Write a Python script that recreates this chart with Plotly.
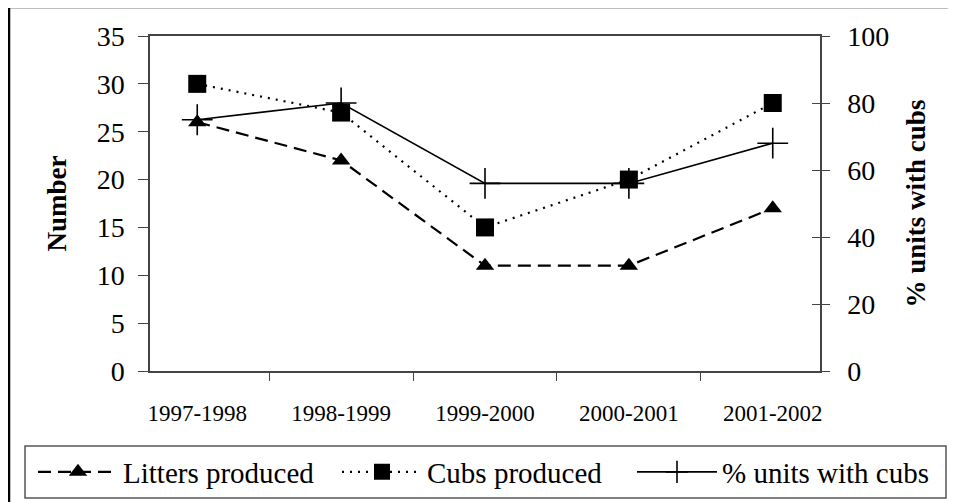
import plotly.graph_objects as go

seasons = ["1997-1998", "1998-1999", "1999-2000", "2000-2001", "2001-2002"]
litters = [26, 22, 11, 11, 17]
cubs = [30, 27, 15, 20, 28]
pct_units = [75, 80, 56, 56, 68]

FONT = "Liberation Serif"
axis_col = "#444444"

# page has an 8px body margin, so the figure is sized to fit the window
W, H = 948, 494
L, T = 142, 28
PW, PH = 670, 335


def px_x(page_x):
    return (page_x - 8 - L) / PW


def px_y(page_y):
    return (T + PH - (page_y - 8)) / PH


fig = go.Figure()

fig.add_trace(go.Scatter(
    x=seasons, y=litters, name="Litters produced", mode="lines+markers",
    legend="legend",
    line=dict(color="black", width=2.2, dash="13px,7px"),
    marker=dict(symbol="triangle-up", size=16, color="black")
))
fig.add_trace(go.Scatter(
    x=seasons, y=cubs, name="Cubs produced", mode="lines+markers",
    legend="legend2",
    line=dict(color="black", width=2.2, dash="2px,6px"),
    marker=dict(symbol="square", size=18, color="black")
))
fig.add_trace(go.Scatter(
    x=seasons, y=pct_units, name="% units with cubs", mode="lines+markers",
    yaxis="y2", legend="legend3",
    line=dict(color="black", width=1.6),
    marker=dict(symbol="cross-thin", size=22, color="black",
                line=dict(color="black", width=1.6))
))
# invisible trace so the inner tick marks of the right axis are drawn
fig.add_trace(go.Scatter(x=seasons, y=pct_units, yaxis="y3", mode="none",
                         showlegend=False, hoverinfo="skip"))

legend_style = dict(
    orientation="h", xanchor="left", yanchor="middle", y=px_y(472),
    borderwidth=0, bgcolor="rgba(0,0,0,0)", itemwidth=80,
    font=dict(family=FONT, size=29, color="black"),
)

fig.update_layout(
    width=W, height=H,
    margin=dict(l=L, r=W - L - PW, t=T, b=H - T - PH, autoexpand=False),
    paper_bgcolor="white", plot_bgcolor="white",
    font=dict(family=FONT, color="black"),
    showlegend=True,
    legend=dict(legend_style, x=px_x(33)),
    legend2=dict(legend_style, x=px_x(337)),
    legend3=dict(legend_style, x=px_x(632)),
    xaxis=dict(
        type="category", tickson="boundaries", ticks="outside", ticklen=8,
        tickcolor=axis_col, showline=True, linecolor=axis_col, linewidth=1.5,
        mirror=True, showgrid=False, automargin=False,
        tickfont=dict(family=FONT, size=23, color="black"),
        ticklabelstandoff=21,
    ),
    yaxis=dict(
        range=[0, 35], dtick=5, ticks="outside", ticklen=10, tickcolor=axis_col,
        showline=True, linecolor=axis_col, linewidth=1.5, showgrid=False,
        zeroline=False, automargin=False, ticklabelstandoff=8,
        tickfont=dict(family=FONT, size=28, color="black"),
        title=dict(text="<b>Number</b>", font=dict(family=FONT, size=27), standoff=22),
    ),
    yaxis2=dict(
        range=[0, 100], dtick=20, overlaying="y", side="right",
        ticks="outside", ticklen=8, tickcolor=axis_col,
        showline=True, linecolor=axis_col, linewidth=1.5, showgrid=False,
        zeroline=False, automargin=False, ticklabelstandoff=12,
        tickfont=dict(family=FONT, size=28, color="black"),
        title=dict(text="<b>% units with cubs</b>", font=dict(family=FONT, size=27),
                   standoff=18),
    ),
    yaxis3=dict(
        range=[0, 100], dtick=20, overlaying="y", side="right",
        ticks="inside", ticklen=8, tickcolor=axis_col, showticklabels=False,
        showline=False, showgrid=False, zeroline=False, automargin=False,
    ),
)

# outer chart frame
fig.add_shape(type="rect", xref="paper", yref="paper",
              x0=px_x(9), x1=px_x(970), y0=px_y(515), y1=px_y(7),
              line=dict(color="black", width=2.5), layer="below")
# legend box
fig.add_shape(type="rect", xref="paper", yref="paper",
              x0=px_x(25), x1=px_x(946), y0=px_y(498), y1=px_y(446),
              line=dict(color="#555555", width=1.5), layer="below")

fig.write_html("out.html")
